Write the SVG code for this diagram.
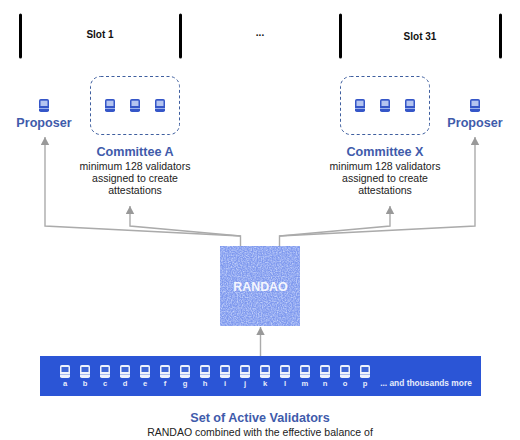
<svg xmlns="http://www.w3.org/2000/svg" width="520" height="440" viewBox="0 0 520 440">
<style>
text{font-family:"Liberation Sans",Arial,sans-serif;text-anchor:middle}
.bar{stroke:#000;stroke-width:3;stroke-linecap:round}
.slot{font-size:10px;font-weight:700;fill:#111}
.title{font-size:12.6px;font-weight:700;fill:#3f5bab}
.desc{font-size:10.5px;fill:#222}
.box{fill:none;stroke:#3f5f9f;stroke-width:1;stroke-dasharray:3 2.5}
.conn{fill:none;stroke:#ababab;stroke-width:1.4}
.lab{font-size:7.6px;font-weight:700;fill:#e6ecfb}
.more{font-size:8.4px;font-weight:700;fill:#e6ecfb}
.v1 .b{fill:#3556c8}.v1 .s{fill:#b4c4f0}.v1 .l{fill:#9db2ec}
.v2 .b{fill:#eef2fc}.v2 .s{fill:#3f66d6}.v2 .l{fill:#a8bbee}
</style>
<defs>
<marker id="arrow" markerWidth="9" markerHeight="9" refX="8" refY="4.500" orient="auto" markerUnits="userSpaceOnUse" viewBox="0 0 9 9"><path d="M0 0.300 L8 4.500 L0 8.700Z" fill="#999"/></marker>
<filter id="noise" x="0" y="0" width="100%" height="100%"><feTurbulence type="fractalNoise" baseFrequency="0.8" numOctaves="2" seed="3"/><feColorMatrix values="0 0 0 0 0.66  0 0 0 0 0.74  0 0 0 0 0.98  1.6 0 0 0 -0.55"/></filter>
<g id="v1" class="v1"><rect class="b" x="-5" y="-6.500" width="10" height="13" rx="1.800"/><rect class="s" x="-3.500" y="-4.800" width="7" height="5.300"/><rect class="l" x="-5" y="2.500" width="10" height="1"/></g>
<g id="v2" class="v2"><rect class="b" x="-5" y="-6.500" width="10" height="13" rx="1.800"/><rect class="s" x="-3.500" y="-4.500" width="7" height="5"/><rect class="l" x="-5" y="2.500" width="10" height="1"/></g>
</defs>

<g id="connectors">
<path class="conn" marker-end="url(#arrow)" d="M240.500 246V236L45 226V137"/>
<path class="conn" marker-end="url(#arrow)" d="M240.500 236L130 226V206"/>
<path class="conn" marker-end="url(#arrow)" d="M279.500 246V236L475 226V137"/>
<path class="conn" marker-end="url(#arrow)" d="M279.500 236L390 226V206"/>
<path class="conn" marker-end="url(#arrow)" d="M260.500 356V327"/>
</g>

<g id="slot-1"><line class="bar" x1="20.500" y1="15" x2="20.500" y2="57"/><line class="bar" x1="180.500" y1="15" x2="180.500" y2="57"/><text class="slot" x="100" y="38">Slot 1</text></g>
<g id="slot-gap"><text class="slot" x="260" y="36">...</text></g>
<g id="slot-31"><line class="bar" x1="340.500" y1="15" x2="340.500" y2="57"/><line class="bar" x1="500.500" y1="15" x2="500.500" y2="57"/><text class="slot" x="420" y="40">Slot 31</text></g>

<g id="proposer-left"><use href="#v1" x="44" y="105.500"/><text class="title" x="44" y="127">Proposer</text></g>
<g id="committee-a"><rect class="box" x="90.500" y="76.500" width="89" height="58" rx="10"/>
<use href="#v1" x="110" y="105.500"/><use href="#v1" x="135" y="105.500"/><use href="#v1" x="160" y="105.500"/>
<text class="title" x="135" y="156">Committee A</text>
<text class="desc" x="135" y="170">minimum 128 validators</text><text class="desc" x="135" y="182">assigned to create</text><text class="desc" x="135" y="194">attestations</text></g>
<g id="committee-x"><rect class="box" x="340.500" y="76.500" width="89" height="58" rx="10"/>
<use href="#v1" x="360" y="105.500"/><use href="#v1" x="385" y="105.500"/><use href="#v1" x="410" y="105.500"/>
<text class="title" x="385" y="156">Committee X</text>
<text class="desc" x="385" y="170">minimum 128 validators</text><text class="desc" x="385" y="182">assigned to create</text><text class="desc" x="385" y="194">attestations</text></g>
<g id="proposer-right"><use href="#v1" x="475" y="105.500"/><text class="title" x="475" y="127">Proposer</text></g>

<g id="randao"><rect x="220" y="246" width="80" height="80" fill="#7f99ee"/><rect x="220" y="246" width="80" height="80" filter="url(#noise)"/><text x="260.500" y="291" font-size="12.400" font-weight="700" fill="#f4f6fe">RANDAO</text></g>

<g id="validators"><rect x="40" y="356" width="441" height="40" fill="#2b55d6"/>
<use href="#v2" x="65" y="371.500"/><use href="#v2" x="85" y="371.500"/><use href="#v2" x="105" y="371.500"/><use href="#v2" x="125" y="371.500"/><use href="#v2" x="145" y="371.500"/><use href="#v2" x="165" y="371.500"/><use href="#v2" x="185" y="371.500"/><use href="#v2" x="205" y="371.500"/><use href="#v2" x="225" y="371.500"/><use href="#v2" x="245" y="371.500"/><use href="#v2" x="265" y="371.500"/><use href="#v2" x="285" y="371.500"/><use href="#v2" x="305" y="371.500"/><use href="#v2" x="325" y="371.500"/><use href="#v2" x="345" y="371.500"/><use href="#v2" x="365" y="371.500"/>
<text class="lab" x="65" y="386">a</text><text class="lab" x="85" y="386">b</text><text class="lab" x="105" y="386">c</text><text class="lab" x="125" y="386">d</text><text class="lab" x="145" y="386">e</text><text class="lab" x="165" y="386">f</text><text class="lab" x="185" y="386">g</text><text class="lab" x="205" y="386">h</text><text class="lab" x="225" y="386">i</text><text class="lab" x="245" y="386">j</text><text class="lab" x="265" y="386">k</text><text class="lab" x="285" y="386">l</text><text class="lab" x="305" y="386">m</text><text class="lab" x="325" y="386">n</text><text class="lab" x="345" y="386">o</text><text class="lab" x="365" y="386">p</text>
<text class="more" x="426" y="386">... and thousands more</text></g>

<g id="caption"><text class="title" x="260" y="422">Set of Active Validators</text><text class="desc" x="260" y="436">RANDAO combined with the effective balance of</text></g>
</svg>
